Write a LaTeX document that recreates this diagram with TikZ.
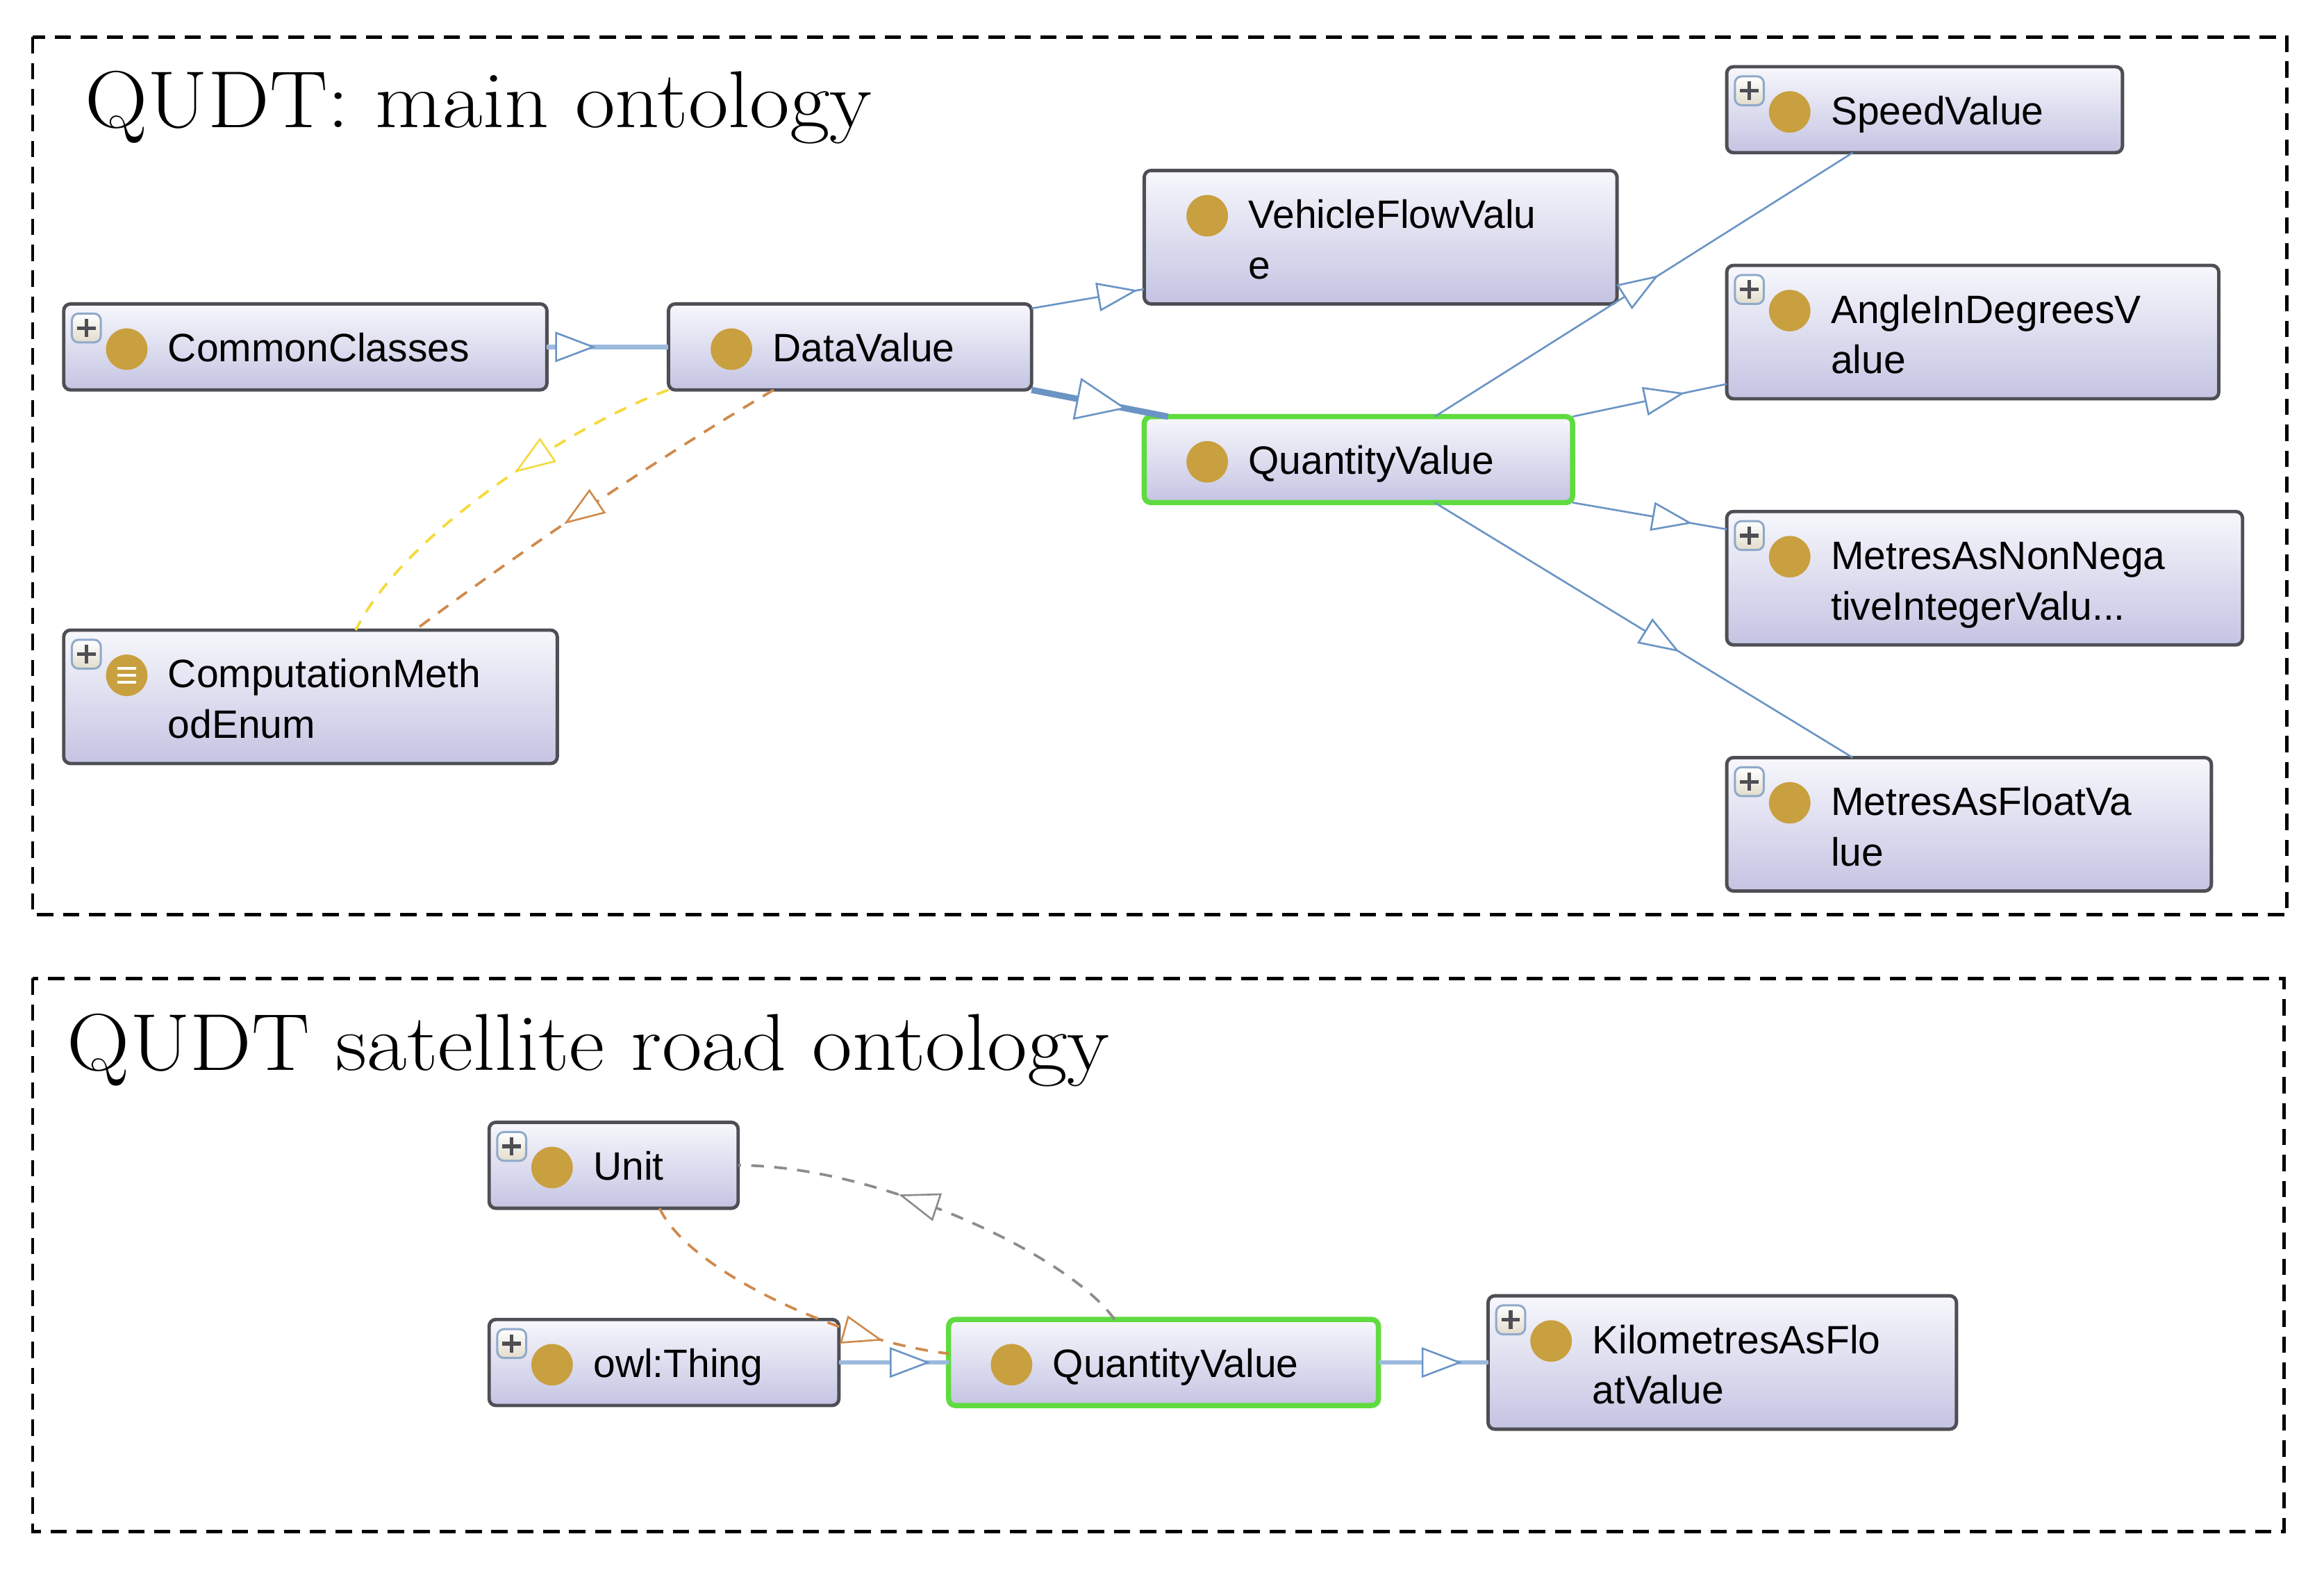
\documentclass[tikz,border=0pt]{standalone}
\usepackage{fontspec}
\setsansfont{Liberation Sans}
\newfontfamily\ttlfont[FakeStretch=1.078]{Latin Modern Roman}
\usetikzlibrary{positioning,decorations.markings}

\definecolor{boxline}{HTML}{4E4E55}
\definecolor{boxtop}{HTML}{F7F7FC}
\definecolor{boxbot}{HTML}{C4C4E3}
\definecolor{golddot}{HTML}{C9A03F}
\definecolor{selgreen}{HTML}{5FDB3F}
\definecolor{isablue}{HTML}{6A94C4}
\definecolor{isalight}{HTML}{9CBADD}
\definecolor{propyellow}{HTML}{F4DA3C}
\definecolor{proporange}{HTML}{CF8A4C}
\definecolor{propgray}{HTML}{8C8C8C}
\definecolor{plusline}{HTML}{8FA9C9}
\definecolor{plusfill}{HTML}{E2DCCB}

% icons inside the class boxes
\newcommand\ogdot{\fill[golddot] ([shift={(0.85cm,-0.61cm)}]path picture bounding box.north west) circle (0.28cm);}
\newcommand\ogplus{%
  \draw[plusline, line width=0.8pt, top color=white, bottom color=plusfill]
    ([shift={(0.11cm,-0.13cm)}]path picture bounding box.north west) rectangle +(0.39cm,-0.39cm);
  \draw[line width=1.4pt]
    ([shift={(0.305cm,-0.20cm)}]path picture bounding box.north west) -- +(0,-0.25cm)
    ([shift={(0.18cm,-0.325cm)}]path picture bounding box.north west) -- +(0.25cm,0);}
\newcommand\ogenum{%
  \foreach \dy in {0.09,0,-0.09}
    \draw[white, line width=1.1pt]
      ([shift={(0.72cm,{\dy cm-0.61cm})}]path picture bounding box.north west) -- +(0.26cm,0);}

\tikzset{
  cls/.style={draw=boxline, line width=1.3pt, rounded corners=2.6pt,
    top color=boxtop, bottom color=boxbot, inner sep=0pt, outer sep=0pt,
    anchor=north west, minimum height=1.16cm},
  tall/.style={minimum height=1.8cm},
  sel/.style={draw=selgreen, line width=2pt},
  dot/.style={path picture={\ogdot}},
  dotplus/.style={path picture={\ogdot\ogplus}},
  enumplus/.style={path picture={\ogdot\ogenum\ogplus}},
  txt/.style={font=\sffamily\fontsize{15.2}{19.4}\selectfont, align=left,
    anchor=base west, inner sep=0pt},
  ttl/.style={font=\ttlfont\fontsize{31}{36}\selectfont, anchor=base west, inner sep=0pt},
  frame/.style={draw, line width=1.3pt, dash pattern=on 0.22cm off 0.13cm},
  mk/.style n args={4}{postaction={decorate, decoration={markings,
    mark=at position #1 with {\draw[#2, solid, line width=0.7pt, fill=white]
      (0,0) -- (-#3,#4) -- (-#3,-#4) -- cycle;}}}},
  isa/.style={draw=isablue, line width=0.7pt, mk={#1}{isablue}{0.5cm}{0.18cm}},
  isathick/.style={draw=isalight, line width=1.8pt, mk={#1}{isablue}{0.5cm}{0.19cm}},
  isabold/.style={draw=isablue, line width=2.4pt, mk={#1}{isablue}{0.64cm}{0.27cm}},
  prop/.style 2 args={draw=#2, line width=1pt, dash pattern=on 0.17cm off 0.14cm,
    mk={#1}{#2}{0.5cm}{0.18cm}}
}

\begin{document}
\begin{tikzpicture}
  \useasboundingbox (0,0) rectangle (31.36,-21.24);

  \path[frame] (0.44,-0.5) rectangle (30.86,-12.34);
  \path[frame] (0.44,-13.2) rectangle (30.82,-20.66);

  \node[ttl] (main-title) at (1.14,-1.72) {QUDT: main ontology};
  \node[ttl] (road-title) at (0.9,-14.44) {QUDT satellite road ontology};

  % main ontology
  \node[cls, dotplus, minimum width=6.52cm] (cc) at (0.86,-4.10) {};
  \node[cls, dot, minimum width=4.9cm, right=1.64cm of cc] (dv) {};
  \node[cls, tall, enumplus, minimum width=6.66cm,
        below=3.24cm of cc.south west, anchor=north west] (cme) {};
  \node[cls, sel, dot, minimum width=5.78cm] (qv) at (15.44,-5.62) {};
  \node[cls, tall, dot, minimum width=6.38cm,
        above=1.52cm of qv.north west, anchor=south west] (vfv) {};
  \node[cls, dotplus, minimum width=5.34cm] (sv) at (23.30,-0.90) {};
  \node[cls, tall, dotplus, minimum width=6.64cm,
        below=1.52cm of sv.south west, anchor=north west] (ang) {};
  \node[cls, tall, dotplus, minimum width=6.96cm,
        below=1.52cm of ang.south west, anchor=north west] (mnn) {};
  \node[cls, tall, dotplus, minimum width=6.54cm,
        below=1.52cm of mnn.south west, anchor=north west] (mfl) {};

  \node[txt] (cc-t)  at ([shift={(1.4,-0.78)}]cc.north west)  {CommonClasses};
  \node[txt] (dv-t)  at ([shift={(1.4,-0.78)}]dv.north west)  {DataValue};
  \node[txt] (cme-t) at ([shift={(1.4,-1.46)}]cme.north west) {ComputationMeth\\odEnum};
  \node[txt] (qv-t)  at ([shift={(1.4,-0.78)}]qv.north west)  {QuantityValue};
  \node[txt] (vfv-t) at ([shift={(1.4,-1.46)}]vfv.north west) {VehicleFlowValu\\e};
  \node[txt] (sv-t)  at ([shift={(1.4,-0.78)}]sv.north west)  {SpeedValue};
  \node[txt] (ang-t) at ([shift={(1.4,-1.46)}]ang.north west) {AngleInDegreesV\\alue};
  \node[txt] (mnn-t) at ([shift={(1.4,-1.46)}]mnn.north west) {MetresAsNonNega\\tiveIntegerValu...};
  \node[txt] (mfl-t) at ([shift={(1.4,-1.46)}]mfl.north west) {MetresAsFloatVa\\lue};

  \draw[isathick=0.38] (cc) -- (dv);
  \draw[isa=0.92] ([yshift=-0.06cm]dv.north east) -- ([yshift=0.2cm]vfv.south west);
  \draw[isabold=0.68] (dv.south east) -- ([xshift=0.32cm]qv.north west);
  \draw[isa=0.53] ([xshift=3.92cm]qv.north west) -- ([xshift=1.7cm]sv.south west);
  \draw[isa=0.71] (qv.north east) -- ([yshift=0.2cm]ang.south west);
  \draw[isa=0.76] (qv.south east) -- ([yshift=-0.24cm]mnn.north west);
  \draw[isa=0.58] ([xshift=3.92cm]qv.south west) -- ([xshift=1.7cm]mfl.north west);

  \draw[prop={0.43}{propyellow}] (dv.south west)
    .. controls +(-1.12,-0.4) and +(0.7,1.4) .. ([xshift=3.94cm]cme.north west);
  \draw[prop={0.57}{proporange}] ([xshift=1.42cm]dv.south west)
    .. controls +(-1.64,-0.96) and +(1.2,0.9) .. ([xshift=4.74cm]cme.north west);

  % satellite road ontology
  \node[cls, dotplus, minimum width=4.72cm] (owl) at (6.60,-17.80) {};
  \node[cls, dotplus, minimum width=3.36cm,
        above=1.5cm of owl.north west, anchor=south west] (unit) {};
  \node[cls, sel, dot, minimum width=5.8cm, right=1.48cm of owl] (qv2) {};
  \node[cls, tall, dotplus, minimum width=6.32cm, right=1.48cm of qv2] (km) {};

  \node[txt] (unit-t) at ([shift={(1.4,-0.78)}]unit.north west) {Unit};
  \node[txt] (owl-t)  at ([shift={(1.4,-0.78)}]owl.north west)  {owl:Thing};
  \node[txt] (qv2-t)  at ([shift={(1.4,-0.78)}]qv2.north west)  {QuantityValue};
  \node[txt] (km-t)   at ([shift={(1.4,-1.46)}]km.north west)   {KilometresAsFlo\\atValue};

  \draw[isathick=0.81] (owl) -- (qv2);
  \draw[isathick=0.74] (qv2) -- (km);
  \draw[prop={0.6}{propgray}] ([xshift=2.24cm]qv2.north west)
    .. controls +(-0.64,0.9) and +(1.84,0) .. (unit.east);
  \draw[prop={0.79}{proporange}] ([xshift=2.3cm]unit.south west)
    .. controls +(0.4,-0.86) and +(-1.4,0.16) .. ([yshift=0.12cm]qv2.west);
\end{tikzpicture}
\end{document}
